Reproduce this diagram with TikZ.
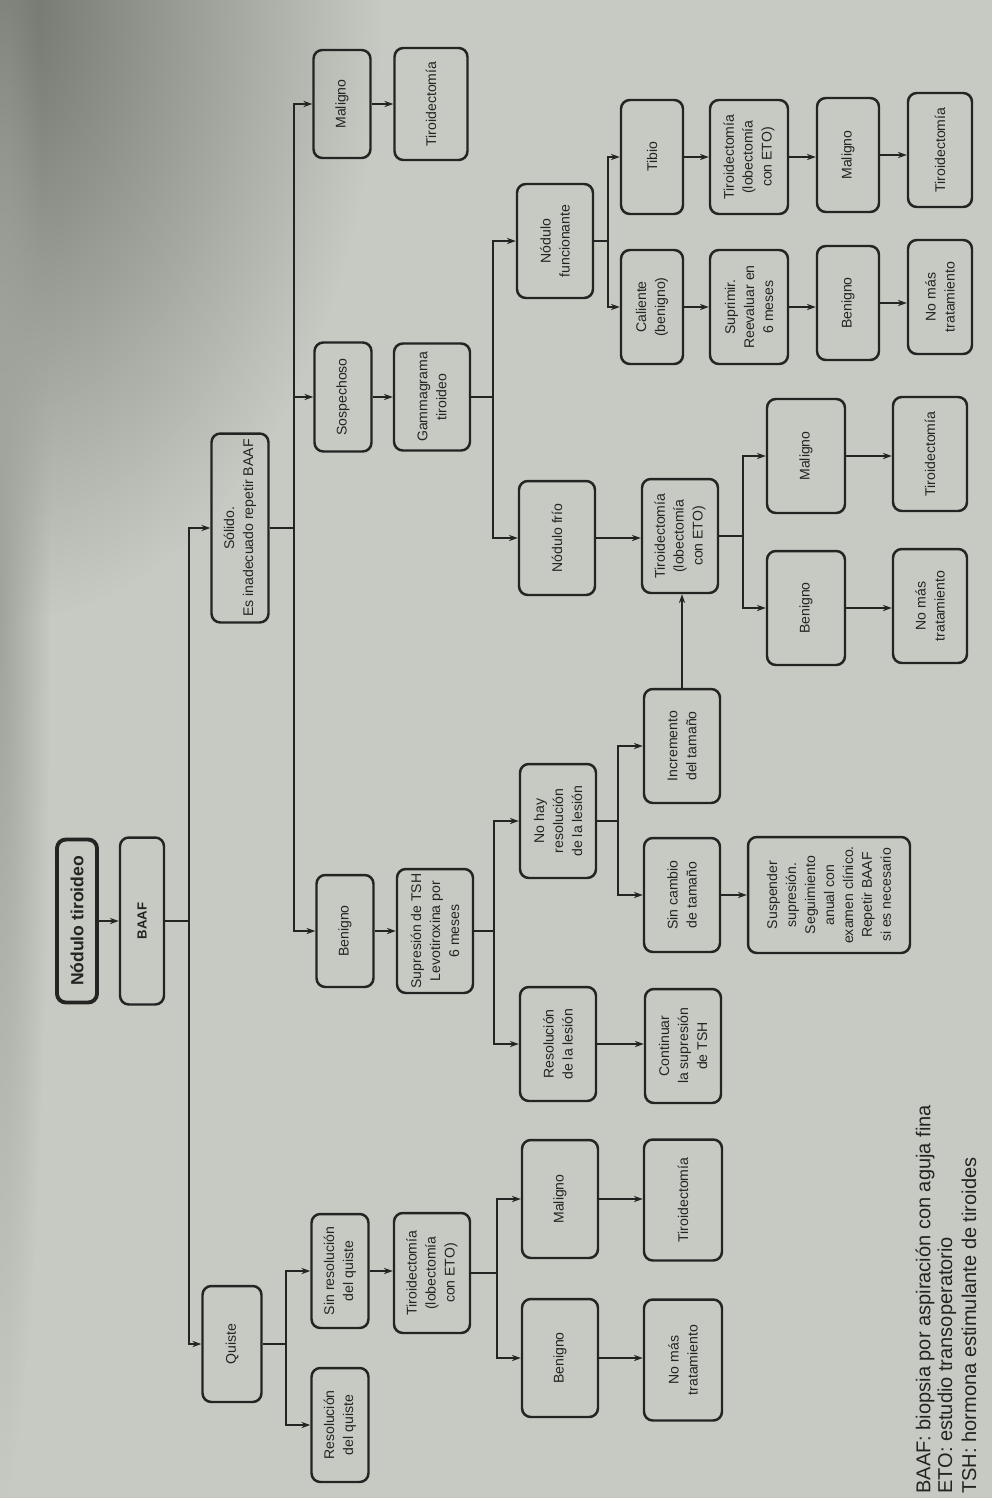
\documentclass[tikz,border=0pt]{standalone}
\usepackage{fontspec}
\setmainfont{Liberation Sans}
\usetikzlibrary{arrows.meta,fadings}
\definecolor{paper}{RGB}{199,201,195}
\definecolor{paperdark}{RGB}{112,116,108}
\definecolor{ink}{RGB}{36,36,34}
\tikzfading[name=vignette, inner color=transparent!0, outer color=transparent!100]

\begin{document}
\begin{tikzpicture}[
    x=0.02cm, y=-0.02cm,
    flowbox/.style={draw=ink, text=ink, line width=1.4pt, rounded corners=5pt, rotate=90,
        align=center, inner sep=1pt, font=\fontsize{8}{10.8}\selectfont,
        minimum width=2.28cm, minimum height=1.52cm},
    slimbox/.style={flowbox, minimum height=1.14cm},
    midbox/.style={flowbox, minimum height=1.24cm},
    rootnode/.style={flowbox, line width=2.2pt, font=\fontsize{10}{12}\selectfont\bfseries,
        minimum width=3.26cm, minimum height=0.8cm},
    link/.style={draw=ink, line width=0.9pt},
    arrowlink/.style={link, -{Stealth[length=5pt,width=3.5pt]}},
    legend/.style={text=ink, rotate=90, anchor=west, inner sep=0pt, font=\fontsize{11.4}{13}\selectfont},
]
    \useasboundingbox (0,0) rectangle (992,1498);
    % page
    \begin{scope}
        \clip (0,0) rectangle (992,1498);
        \fill[paper] (0,0) rectangle (992,1498);
        \fill[paperdark, path fading=vignette] (-380,-620) rectangle (380,620);
        \fill[paperdark!45!paper, path fading=vignette] (-50,-300) rectangle (50,1500);
    \end{scope}
    \node[legend] (leg1) at (925,1494) {BAAF: biopsia por aspiración con aguja fina};
    \node[legend] (leg2) at (947,1494) {ETO: estudio transoperatorio};
    \node[legend] (leg3) at (969,1494) {TSH: hormona estimulante de tiroides};

    % root
    \node[rootnode] (nodulo) at (77,921) {Nódulo tiroideo};
    \node[flowbox, font=\fontsize{7.5}{9}\selectfont\bfseries, minimum width=3.34cm,
        minimum height=0.88cm] (baaf) at (142,921) {BAAF};
    \node[slimbox, minimum width=3.78cm] (solido) at (240,528) {Sólido.\\Es inadecuado repetir BAAF};
    \node[slimbox, minimum height=1.18cm, minimum width=2.32cm] (quiste) at (232,1344) {Quiste};

    % solido
    \node[slimbox, minimum width=2.16cm] (maligno1) at (342,104) {Maligno};
    \node[flowbox, minimum height=1.46cm, minimum width=2.24cm] (tiroid1) at (431,104) {Tiroidectomía};
    \node[slimbox, minimum width=2.18cm] (sospechoso) at (343,397) {Sospechoso};
    \node[flowbox, minimum width=2.14cm] (gammagrama) at (432,397) {Gammagrama\\tiroideo};
    \node[slimbox, minimum width=2.24cm] (benigno1) at (345,931) {Benigno};
    \node[flowbox, minimum width=2.48cm] (supresion) at (435,931) {Supresión de TSH\\Levotiroxina por\\6 meses};

    % gammagrama
    \node[flowbox] (funcionante) at (555,241) {Nódulo\\funcionante};
    \node[flowbox] (frio) at (557,538) {Nódulo frío};
    \node[midbox] (tibio) at (652,157) {Tibio};
    \node[midbox] (caliente) at (652,307) {Caliente\\(benigno)};
    \node[flowbox, minimum height=1.56cm] (tiroid2) at (749,157) {Tiroidectomía\\(lobectomía\\con ETO)};
    \node[flowbox, minimum height=1.56cm] (suprimir) at (749,307) {Suprimir.\\Reevaluar en\\6 meses};
    \node[midbox] (maligno2) at (848,155) {Maligno};
    \node[midbox] (benigno2) at (848,303) {Benigno};
    \node[flowbox, minimum height=1.28cm] (tiroid3) at (940,150) {Tiroidectomía};
    \node[flowbox, minimum height=1.28cm] (nomas2) at (940,297) {No más\\tratamiento};

    \node[flowbox] (tiroid4) at (680,536) {Tiroidectomía\\(lobectomía\\con ETO)};
    \node[flowbox, minimum height=1.56cm] (maligno3) at (806,456) {Maligno};
    \node[flowbox, minimum height=1.56cm] (benigno3) at (806,608) {Benigno};
    \node[flowbox, minimum height=1.48cm] (tiroid5) at (930,454) {Tiroidectomía};
    \node[flowbox, minimum height=1.48cm] (nomas3) at (930,606) {No más\\tratamiento};

    % supresion TSH
    \node[flowbox] (nohay) at (558,821) {No hay\\resolución\\de la lesión};
    \node[flowbox] (resolucion) at (558,1044) {Resolución\\de la lesión};
    \node[flowbox] (incremento) at (682,746) {Incremento\\del tamaño};
    \node[flowbox] (sincambio) at (682,895) {Sin cambio\\de tamaño};
    \node[flowbox, minimum height=3.24cm, minimum width=2.32cm] (suspender) at (829,895)
        {Suspender\\supresión.\\Seguimiento\\anual con\\examen clínico.\\Repetir BAAF\\si es necesario};
    \node[flowbox] (continuar) at (683,1046) {Continuar\\la supresión\\de TSH};

    % quiste
    \node[slimbox] (sinquiste) at (340,1271) {Sin resolución\\del quiste};
    \node[slimbox] (resquiste) at (340,1425) {Resolución\\del quiste};
    \node[flowbox, minimum width=2.4cm] (tiroid6) at (432,1273) {Tiroidectomía\\(lobectomía\\con ETO)};
    \node[flowbox, minimum width=2.36cm] (maligno4) at (560,1199) {Maligno};
    \node[flowbox, minimum width=2.36cm] (benigno4) at (560,1358) {Benigno};
    \node[flowbox, minimum height=1.56cm, minimum width=2.42cm] (tiroid7) at (683,1200) {Tiroidectomía};
    \node[flowbox, minimum height=1.56cm, minimum width=2.42cm] (nomas4) at (683,1360) {No más\\tratamiento};

    % branch points
    \coordinate (jbaaf) at (189,921);
    \coordinate (jsolido) at (294,528);
    \coordinate (jgamma) at (493,397);
    \coordinate (jfunc) at (608,241);
    \coordinate (jtiroid4) at (743,536);
    \coordinate (jsupresion) at (494,931);
    \coordinate (jnohay) at (618,821);
    \coordinate (jquiste) at (286,1344);
    \coordinate (jtiroid6) at (497,1273);

    \foreach \s/\j in {baaf/jbaaf, solido/jsolido, gammagrama/jgamma, funcionante/jfunc,
        tiroid4/jtiroid4, supresion/jsupresion, nohay/jnohay, quiste/jquiste, tiroid6/jtiroid6}
        \draw[link] (\s.south) -- (\j);
    \foreach \j/\t in {jbaaf/solido, jbaaf/quiste, jsolido/maligno1, jsolido/sospechoso,
        jsolido/benigno1, jgamma/funcionante, jgamma/frio, jfunc/tibio, jfunc/caliente,
        jtiroid4/maligno3, jtiroid4/benigno3, jsupresion/nohay, jsupresion/resolucion,
        jnohay/incremento, jnohay/sincambio, jquiste/sinquiste, jquiste/resquiste,
        jtiroid6/maligno4, jtiroid6/benigno4}
        \draw[arrowlink] (\j) |- (\t.north);

    \foreach \a/\b in {nodulo/baaf, maligno1/tiroid1, sospechoso/gammagrama, benigno1/supresion,
        tibio/tiroid2, tiroid2/maligno2, maligno2/tiroid3, caliente/suprimir, suprimir/benigno2,
        benigno2/nomas2, frio/tiroid4, maligno3/tiroid5, benigno3/nomas3, sincambio/suspender,
        resolucion/continuar, sinquiste/tiroid6, maligno4/tiroid7, benigno4/nomas4}
        \draw[arrowlink] (\a.south) -- (\a.south -| \b.north);
    \draw[arrowlink] (incremento.east) -- (incremento.east |- tiroid4.west);
\end{tikzpicture}
\end{document}
